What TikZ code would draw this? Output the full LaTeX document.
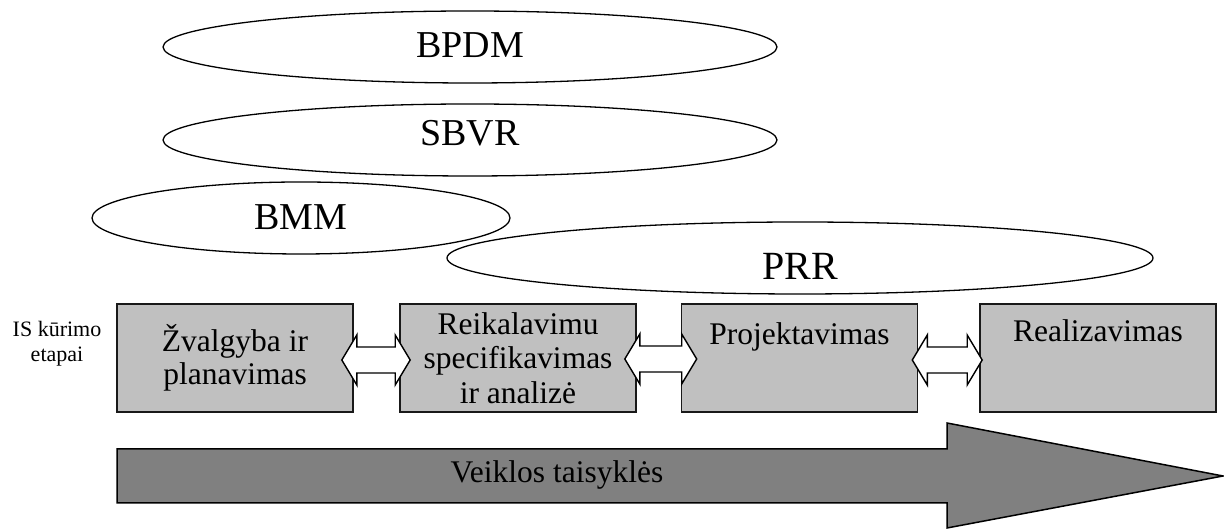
\documentclass[tikz,border=0pt]{standalone}
\usepackage{fontspec}
\setmainfont{Liberation Serif}
\usetikzlibrary{calc,shapes.geometric}

\definecolor{stagegray}{HTML}{C0C0C0}
\definecolor{flowgray}{HTML}{808080}

% two-headed hollow arrow between two stage boxes:
% #1 left node, #2 right node, #3 overlap into left node, #4 overlap into right node, #5 vertical offset
\newcommand\twoway[5]{%
  \coordinate (tipL) at ($(#1.east)+(-#3,#5)$);
  \coordinate (tipR) at ($(#2.west)+(#4,#5)$);
  \draw[twowayarrow] (tipL) -- ++(15,25) -- ++(0,-12)
    -- ($(tipR)+(-15,13)$) -- ++(0,12) -- (tipR)
    -- ++(-15,-25) -- ++(0,12)
    -- ($(tipL)+(15,-13)$) -- ++(0,-12) -- cycle;
}

\begin{document}
\begin{tikzpicture}[x=1pt,y=1pt,
  oval/.style={draw=black, line width=1.3pt, ellipse, minimum width=614pt,
    minimum height=72pt, inner sep=0pt},
  ovaltext/.style={font=\fontsize{38}{42}\selectfont, inner sep=0pt},
  stage/.style={draw=black!90, line width=1.6pt, fill=stagegray,
    minimum width=236pt, minimum height=108pt, inner sep=0pt, align=center,
    font=\fontsize{31.5}{33}\selectfont},
  stagetext/.style={font=\fontsize{31.5}{33}\selectfont, inner sep=0pt},
  twowayarrow/.style={draw=black, line width=1.4pt, fill=white, line join=miter},
  flow/.style={draw=black, line width=1.5pt, fill=flowgray},
]
\useasboundingbox (0,0) rectangle (1224,529);

% standards shown as ellipses
\node[oval] (bpdm) at (470,482) {};
\node[ovaltext] at ($(bpdm)+(0,2)$) {BPDM};
\node[oval] (sbvr) at (470,389) {};
\node[ovaltext] at ($(sbvr)+(0,7)$) {SBVR};
\node[oval, minimum width=418pt] (bmm) at (301,311) {};
\node[ovaltext] at ($(bmm)+(0,1)$) {BMM};
\node[oval, minimum width=706pt] (prr) at (800,271) {};
\node[ovaltext, font=\fontsize{40}{44}\selectfont] at ($(prr)+(0,-8)$) {PRR};

% development stages
\node[font=\fontsize{22}{25}\selectfont, align=center, inner sep=0pt] (phase)
  at (57,185) {IS kūrimo\\etapai};
\node[stage] (b1) at (235,171) {Žvalgyba ir\\planavimas};
\node[stage, font=\fontsize{31.5}{34.5}\selectfont] (b2) at (518,171)
  {Reikalavimu\\specifikavimas\\ir analizė};
\node[stage] (b3) at (799.5,171) {};
\node[stage] (b4) at (1098,171) {};
\node[stagetext, anchor=base] (t3) at ($(b3.north)+(0,-41)$) {Projektavimas};
\node[stagetext, anchor=base] (t4) at ($(b4.north)+(0,-38)$) {Realizavimas};

% links between the stages
\twoway{b1}{b2}{12}{11}{-2}
\twoway{b2}{b3}{12}{16}{-1}
\twoway{b3}{b4}{6}{3}{-2}

% business rules run through all stages
\draw[flow] (117,80) -- (947,80) -- (947,106) -- (1223,53) -- (947,1)
  -- (947,26) -- (117,26) -- cycle;
\node[stagetext] (rules) at (557,54) {Veiklos taisyklės};
\end{tikzpicture}
\end{document}
